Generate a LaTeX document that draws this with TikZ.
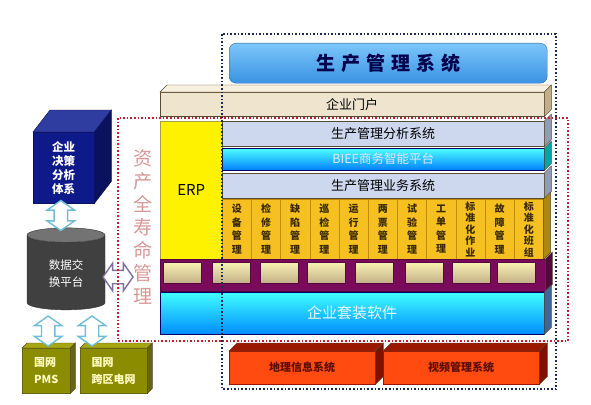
\documentclass[tikz,border=0pt]{standalone}
\usepackage{fontspec}
\setmainfont{Noto Sans CJK SC}
\usetikzlibrary{calc,shapes.geometric,shapes.arrows}

\definecolor{edge}{HTML}{5A4A30}
\definecolor{beigefront}{HTML}{EFE5CF}
\definecolor{beigetop}{HTML}{F7F0DE}
\definecolor{beigeside}{HTML}{C2AE88}
\definecolor{grayblue}{HTML}{CDD8EE}
\definecolor{grayside}{HTML}{8F9CB6}
\definecolor{modfill}{HTML}{F6C020}
\definecolor{modedge}{HTML}{C08A00}
\definecolor{modtext}{HTML}{3A2A00}
\definecolor{plum}{HTML}{7A0A5A}
\definecolor{plumside}{HTML}{560640}
\definecolor{fire}{HTML}{FF4A10}
\definecolor{firedark}{HTML}{9A1800}
\definecolor{navy}{HTML}{0F1A8A}
\definecolor{navytop}{HTML}{2F3CA0}
\definecolor{navyside}{HTML}{0A125E}
\definecolor{olive}{HTML}{8C8C00}
\definecolor{olivetop}{HTML}{A6A612}
\definecolor{oliveside}{HTML}{66660A}
\definecolor{arrowblue}{HTML}{70BED6}
\definecolor{arrowgray}{HTML}{8070A0}
\definecolor{pinktext}{HTML}{D89696}
\definecolor{dotred}{HTML}{C02030}
\definecolor{dotblack}{HTML}{1A2A50}
\definecolor{skytop}{HTML}{7CC6FA}
\definecolor{skybottom}{HTML}{3A92E2}

\tikzset{
  slab/.style={anchor=north west, inner sep=0pt, draw=edge, font=\fontsize{13}{13}\selectfont},
  module/.style={slab, fill=modfill, draw=modedge, minimum width=29.2pt, minimum height=60pt,
    align=center, text=modtext, font=\bfseries\fontsize{10}{11.5}\selectfont},
  block/.style={anchor=north west, inner sep=0pt, minimum width=38pt, minimum height=21pt,
    top color=beigetop!80!yellow, bottom color=beigeside, draw=plumside},
  dblarrow/.style={double arrow, draw=arrowblue, line width=1.4pt, fill=white, inner xsep=0pt,
    inner ysep=6pt, double arrow head extend=7pt, double arrow tip angle=110, minimum height=30pt},
  dotbox/.style={line width=1.6pt, dash pattern=on 1.6pt off 2pt}
}

% top and side faces of a box, from the front node
\newcommand{\topface}[3]{%
  \filldraw[draw=edge,fill=#2] (#1.north west) -- ++(#3,-#3) -- ($(#1.north east)+(#3,-#3)$) -- (#1.north east) -- cycle;}
\newcommand{\sideface}[3]{%
  \filldraw[draw=edge,fill=#2] (#1.north east) -- ++(#3,-#3) -- ($(#1.south east)+(#3,-#3)$) -- (#1.south east) -- cycle;}

\begin{document}
\begin{tikzpicture}[x=1pt,y=-1pt]
\useasboundingbox (0,0) rectangle (591,404);

% Title
\node[anchor=north west, minimum width=318pt, minimum height=40pt, rounded corners=7pt,
  top color=skytop, bottom color=skybottom, draw=skybottom!70!black,
  font=\bfseries\fontsize{19}{19}\selectfont, text=blue!30!black] (title) at (229,43)
  {生\hspace{6pt}产\hspace{6pt}管\hspace{6pt}理\hspace{6pt}系\hspace{6pt}统};

% Portal
\node[slab, fill=beigefront, minimum width=384pt, minimum height=24pt] (portal) at (160,92) {企业门户};
\topface{portal}{beigetop}{7}
\sideface{portal}{beigeside}{7}

% ERP and stacked layers
\node[slab, fill=yellow, draw=yellow!60!black, minimum width=62pt, minimum height=138pt,
  font=\fontsize{15}{15}\selectfont] (erp) at (160,121) {ERP};
\node[slab, fill=grayblue, minimum width=322pt, minimum height=25pt] (analysis) at (222,121) {生产管理分析系统};
\sideface{analysis}{grayside}{7}
\node[slab, top color=cyan!70, bottom color=blue!50!cyan, draw=blue!40!black, minimum width=322pt,
  minimum height=22pt, text=blue!10, font=\fontsize{12.5}{12.5}\selectfont] (biee) at (222,148) {BIEE商务智能平台};
\sideface{biee}{teal!70!cyan}{7}
\node[slab, fill=grayblue, minimum width=322pt, minimum height=25pt] (business) at (222,173) {生产管理业务系统};
\sideface{business}{grayside}{7}

% Modules
\foreach \t [count=\i from 0] in {设\\[2pt]备\\[2pt]管\\[2pt]理,检\\[2pt]修\\[2pt]管\\[2pt]理,
  缺\\[2pt]陷\\[2pt]管\\[2pt]理,巡\\[2pt]检\\[2pt]管\\[2pt]理,运\\[2pt]行\\[2pt]管\\[2pt]理,
  两\\[2pt]票\\[2pt]管\\[2pt]理,试\\[2pt]验\\[2pt]管\\[2pt]理,工\\[2pt]单\\[2pt]管\\[2pt]理,
  标\\准\\化\\作\\业,故\\[2pt]障\\[2pt]管\\[2pt]理,标\\准\\化\\班\\组}
  \node[module] (m\i) at (222+29.2*\i,199) {\t};
\sideface{m10}{modfill!70!black}{7}

% Plum band with blocks
\node[slab, fill=plum, draw=plumside, minimum width=385pt, minimum height=32pt] (band) at (160,259) {};
\sideface{band}{plumside}{7}
\foreach \x [count=\i] in {163,212,260,307,355,405,452,497}
  \node[block] (b\i) at (\x,262) {};

% Suite
\node[slab, top color=cyan!75, bottom color=blue!45!cyan, draw=blue!40!black, minimum width=384pt,
  minimum height=42pt, text=cyan!8, font=\fontsize{15}{15}\selectfont] (suite) at (160,292) {企业套装软件};
\sideface{suite}{cyan!50!blue!70!black}{7}

% Bottom systems
\node[slab, fill=fire, draw=firedark, minimum width=146pt, minimum height=33pt, text=firedark!60!black,
  font=\bfseries\fontsize{11}{11}\selectfont] (geo) at (229,351) {地理信息系统};
\topface{geo}{firedark}{8}
\sideface{geo}{firedark!80!black}{8}
\node[slab, fill=fire, draw=firedark, minimum width=156pt, minimum height=33pt, text=firedark!60!black,
  font=\bfseries\fontsize{11}{11}\selectfont] (video) at (383,351) {视频管理系统};
\topface{video}{firedark}{8}
\sideface{video}{firedark!80!black}{8}

% Decision cube
\node[slab, fill=navy, draw=navyside, minimum width=61pt, minimum height=71pt, text=white, align=left,
  font=\bfseries\fontsize{11.5}{14}\selectfont] (cube) at (33,132) {企业\\决策\\分析\\体系};
\filldraw[draw=navyside, fill=navytop] (cube.north west) -- ++(17,-22) -- ($(cube.north east)+(17,-22)$) -- (cube.north east) -- cycle;
\filldraw[draw=navyside, fill=navyside] (cube.north east) -- ++(17,-22) -- ($(cube.south east)+(17,-22)$) -- (cube.south east) -- cycle;

% Exchange platform
\node[cylinder, shape border rotate=90, aspect=0.35, minimum width=78pt, minimum height=82pt,
  cylinder uses custom fill, cylinder body fill=black!75, cylinder end fill=black!55, draw=black!80,
  text=white, align=center, font=\fontsize{11.5}{17}\selectfont] (cyl) at (66,274) {数据交\\换平台};

% Source systems
\node[slab, fill=olive, draw=oliveside, minimum width=48pt, minimum height=45pt, text=yellow!25, align=left,
  font=\bfseries\fontsize{11}{17}\selectfont] (pms) at (22,348) {国网\\PMS};
\topface{pms}{olivetop}{5}
\sideface{pms}{oliveside}{5}
\node[slab, fill=olive, draw=oliveside, minimum width=67pt, minimum height=45pt, text=yellow!25, align=left,
  font=\bfseries\fontsize{11}{17}\selectfont] (grid) at (80,348) {国网\\跨区电网};
\topface{grid}{olivetop}{5}
\sideface{grid}{oliveside}{5}

% Connectors
\node[dblarrow, rotate=90] (a1) at ($(cube.south)!0.5!(cyl.north)+(-4,0)$) {};
\node[dblarrow, rotate=90] (a2) at ($(pms.north)!0.5!(pms.north|-cyl.south)+(2,2)$) {};
\node[dblarrow, rotate=90] (a3) at ($(grid.north west)!0.5!(grid.north west|-cyl.south)+(12,2)$) {};
\coordinate (life) at (118,277);
\node[dblarrow, draw=arrowgray] (a4) at (life) {};

% Lifecycle label
\node[text=pinktext, align=center, font=\fontsize{19}{23}\selectfont] (lifetext) at (143,227)
  {资\\产\\全\\寿\\命\\管\\理};

% Dotted frames
\draw[dotbox, dotred] (118,118) rectangle (568,341);
\draw[dotbox, dotblack] (222,34) rectangle (556,389);
\end{tikzpicture}
\end{document}
